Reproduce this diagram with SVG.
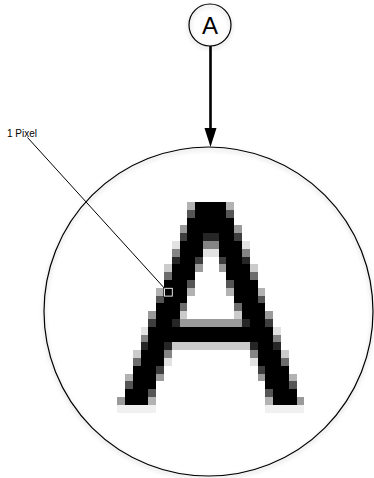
<svg xmlns="http://www.w3.org/2000/svg" width="374" height="478" viewBox="0 0 374 478">
<style>
.k{fill:#000}.g1{fill:#e2e2e2}.g2{fill:#cbcbcb}.g3{fill:#b2b2b2}.g4{fill:#9a9a9a}.g5{fill:#848484}.g6{fill:#6c6c6c}.g7{fill:#555}.g8{fill:#3e3e3e}.g9{fill:#262626}.g0{fill:#f0f0f0}
.ring{fill:none;stroke:#000;stroke-width:1.2}
.lbl{font-family:"Liberation Sans",Arial,sans-serif;fill:#000}
</style>
<defs>
<filter id="sh" x="-10%" y="-10%" width="120%" height="120%">
<feDropShadow dx="0" dy="2" stdDeviation="2" flood-color="#000" flood-opacity="0.25"/>
</filter>
</defs>
<rect width="374" height="478" fill="#fff"/>
<g id="pixel-a" transform="translate(117.2 202) scale(7.8)" shape-rendering="crispEdges">
<rect class="g3" x="9" y="0" width="1" height="1"/><rect class="k" x="10" y="0" width="4" height="1"/><rect class="g3" x="14" y="0" width="1" height="1"/>
<rect class="g7" x="9" y="1" width="1" height="1"/><rect class="k" x="10" y="1" width="4" height="1"/><rect class="g7" x="14" y="1" width="1" height="1"/>
<rect class="k" x="9" y="2" width="6" height="1"/>
<rect class="g4" x="8" y="3" width="1" height="1"/><rect class="k" x="9" y="3" width="6" height="1"/><rect class="g4" x="15" y="3" width="1" height="1"/>
<rect class="g8" x="8" y="4" width="1" height="1"/><rect class="k" x="9" y="4" width="2" height="1"/><rect class="g9" x="11" y="4" width="2" height="1"/><rect class="k" x="13" y="4" width="2" height="1"/><rect class="g8" x="15" y="4" width="1" height="1"/>
<rect class="g1" x="7" y="5" width="1" height="1"/><rect class="k" x="8" y="5" width="3" height="1"/><rect class="g5" x="11" y="5" width="2" height="1"/><rect class="k" x="13" y="5" width="3" height="1"/><rect class="g1" x="16" y="5" width="1" height="1"/>
<rect class="g5" x="7" y="6" width="1" height="1"/><rect class="k" x="8" y="6" width="3" height="1"/><rect class="g1" x="11" y="6" width="2" height="1"/><rect class="k" x="13" y="6" width="3" height="1"/><rect class="g5" x="16" y="6" width="1" height="1"/>
<rect class="g9" x="7" y="7" width="1" height="1"/><rect class="k" x="8" y="7" width="2" height="1"/><rect class="g8" x="10" y="7" width="1" height="1"/><rect class="g8" x="13" y="7" width="1" height="1"/><rect class="k" x="14" y="7" width="2" height="1"/><rect class="g9" x="16" y="7" width="1" height="1"/>
<rect class="g2" x="6" y="8" width="1" height="1"/><rect class="k" x="7" y="8" width="3" height="1"/><rect class="g4" x="10" y="8" width="1" height="1"/><rect class="g4" x="13" y="8" width="1" height="1"/><rect class="k" x="14" y="8" width="3" height="1"/><rect class="g2" x="17" y="8" width="1" height="1"/>
<rect class="g6" x="6" y="9" width="1" height="1"/><rect class="k" x="7" y="9" width="3" height="1"/><rect class="k" x="14" y="9" width="3" height="1"/><rect class="g6" x="17" y="9" width="1" height="1"/>
<rect class="k" x="6" y="10" width="3" height="1"/><rect class="g7" x="9" y="10" width="1" height="1"/><rect class="g7" x="14" y="10" width="1" height="1"/><rect class="k" x="15" y="10" width="3" height="1"/>
<rect class="g3" x="5" y="11" width="1" height="1"/><rect class="k" x="6" y="11" width="3" height="1"/><rect class="g3" x="9" y="11" width="1" height="1"/><rect class="g3" x="14" y="11" width="1" height="1"/><rect class="k" x="15" y="11" width="3" height="1"/><rect class="g3" x="18" y="11" width="1" height="1"/>
<rect class="g7" x="5" y="12" width="1" height="1"/><rect class="k" x="6" y="12" width="3" height="1"/><rect class="k" x="15" y="12" width="3" height="1"/><rect class="g7" x="18" y="12" width="1" height="1"/>
<rect class="k" x="5" y="13" width="3" height="1"/><rect class="g6" x="8" y="13" width="1" height="1"/><rect class="g6" x="15" y="13" width="1" height="1"/><rect class="k" x="16" y="13" width="3" height="1"/>
<rect class="g4" x="4" y="14" width="1" height="1"/><rect class="k" x="5" y="14" width="3" height="1"/><rect class="g2" x="8" y="14" width="1" height="1"/><rect class="g2" x="15" y="14" width="1" height="1"/><rect class="k" x="16" y="14" width="3" height="1"/><rect class="g4" x="19" y="14" width="1" height="1"/>
<rect class="g8" x="4" y="15" width="1" height="1"/><rect class="k" x="5" y="15" width="2" height="1"/><rect class="g9" x="7" y="15" width="1" height="1"/><rect class="g4" x="8" y="15" width="8" height="1"/><rect class="g9" x="16" y="15" width="1" height="1"/><rect class="k" x="17" y="15" width="2" height="1"/><rect class="g8" x="19" y="15" width="1" height="1"/>
<rect class="g1" x="3" y="16" width="1" height="1"/><rect class="k" x="4" y="16" width="16" height="1"/><rect class="g1" x="20" y="16" width="1" height="1"/>
<rect class="g5" x="3" y="17" width="1" height="1"/><rect class="k" x="4" y="17" width="16" height="1"/><rect class="g5" x="20" y="17" width="1" height="1"/>
<rect class="g9" x="3" y="18" width="1" height="1"/><rect class="k" x="4" y="18" width="2" height="1"/><rect class="g9" x="6" y="18" width="1" height="1"/><rect class="g2" x="7" y="18" width="10" height="1"/><rect class="g9" x="17" y="18" width="1" height="1"/><rect class="k" x="18" y="18" width="2" height="1"/><rect class="g9" x="20" y="18" width="1" height="1"/>
<rect class="g2" x="2" y="19" width="1" height="1"/><rect class="k" x="3" y="19" width="3" height="1"/><rect class="g5" x="6" y="19" width="1" height="1"/><rect class="g5" x="17" y="19" width="1" height="1"/><rect class="k" x="18" y="19" width="3" height="1"/><rect class="g2" x="21" y="19" width="1" height="1"/>
<rect class="g6" x="2" y="20" width="1" height="1"/><rect class="k" x="3" y="20" width="3" height="1"/><rect class="g1" x="6" y="20" width="1" height="1"/><rect class="g1" x="17" y="20" width="1" height="1"/><rect class="k" x="18" y="20" width="3" height="1"/><rect class="g6" x="21" y="20" width="1" height="1"/>
<rect class="k" x="2" y="21" width="3" height="1"/><rect class="g8" x="5" y="21" width="1" height="1"/><rect class="g8" x="18" y="21" width="1" height="1"/><rect class="k" x="19" y="21" width="3" height="1"/>
<rect class="g3" x="1" y="22" width="1" height="1"/><rect class="k" x="2" y="22" width="3" height="1"/><rect class="g4" x="5" y="22" width="1" height="1"/><rect class="g4" x="18" y="22" width="1" height="1"/><rect class="k" x="19" y="22" width="3" height="1"/><rect class="g3" x="22" y="22" width="1" height="1"/>
<rect class="g7" x="1" y="23" width="1" height="1"/><rect class="k" x="2" y="23" width="3" height="1"/><rect class="k" x="19" y="23" width="3" height="1"/><rect class="g7" x="22" y="23" width="1" height="1"/>
<rect class="k" x="1" y="24" width="3" height="1"/><rect class="g7" x="4" y="24" width="1" height="1"/><rect class="g7" x="19" y="24" width="1" height="1"/><rect class="k" x="20" y="24" width="3" height="1"/>
<rect class="g4" x="0" y="25" width="1" height="1"/><rect class="k" x="1" y="25" width="3" height="1"/><rect class="g3" x="4" y="25" width="1" height="1"/><rect class="g3" x="19" y="25" width="1" height="1"/><rect class="k" x="20" y="25" width="3" height="1"/><rect class="g4" x="23" y="25" width="1" height="1"/>
<rect class="g0" x="0" y="26" width="5" height="1"/><rect class="g0" x="19" y="26" width="5" height="1"/>
</g>
<g id="magnifier">
<circle class="ring" cx="208.5" cy="311.5" r="164.5" filter="url(#sh)"/>
</g>
<g id="node-a">
<circle class="ring" cx="210" cy="25" r="21" fill="#fff" filter="url(#sh)"/>
<text class="lbl" x="210" y="34" font-size="24" text-anchor="middle">A</text>
</g>
<g id="pixel-marker">
<rect x="164.5" y="288.3" width="7.8" height="7.8" fill="none" stroke="#000" stroke-width="2.2"/>
<rect x="164.5" y="288.3" width="7.8" height="7.8" fill="none" stroke="#fff" stroke-width="0.9"/>
</g>
<g id="label">
<text class="lbl" x="7" y="137" font-size="10">1 Pixel</text>
</g>
<g id="connectors">
<line x1="210.5" y1="46" x2="210.5" y2="129" stroke="#000" stroke-width="2.6"/>
<polygon points="204.5,128 216.5,128 210.5,147" fill="#000"/>
<line x1="27.5" y1="137.5" x2="164.6" y2="288.4" stroke="#000" stroke-width="1"/>
</g>
</svg>
